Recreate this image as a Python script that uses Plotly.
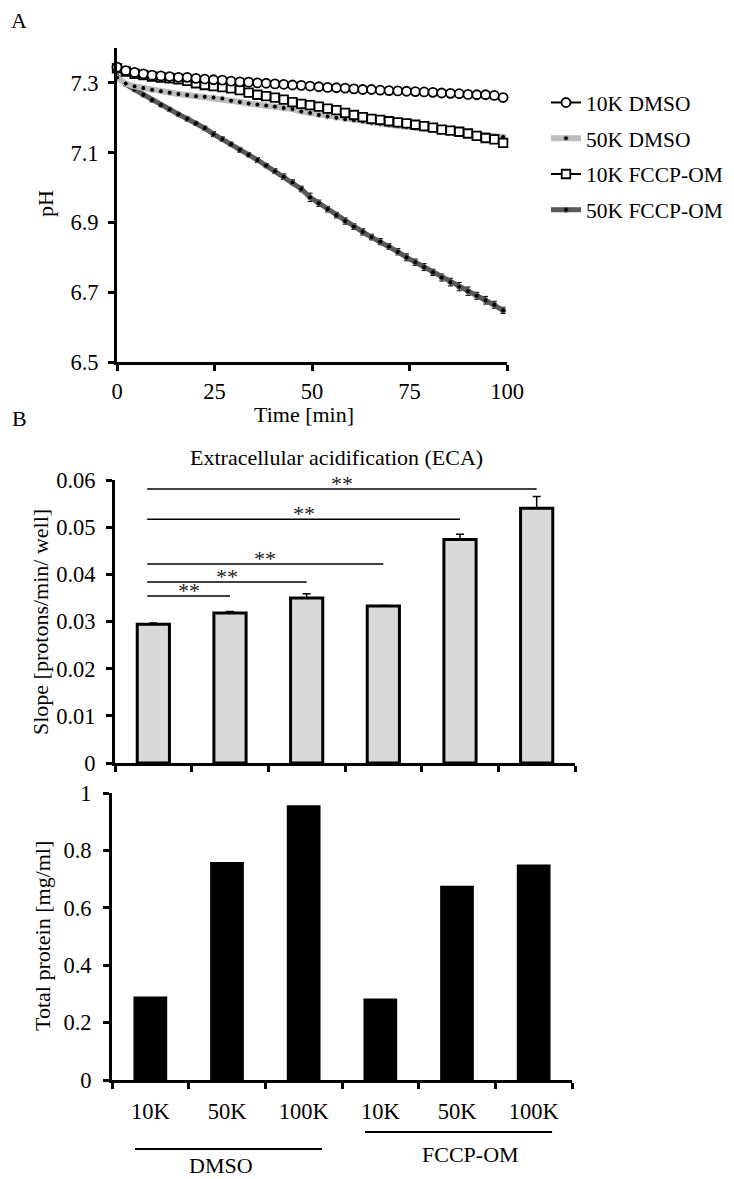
import plotly.graph_objects as go

W, H = 734, 1179
PAGE_MARGIN = 8          # default body margin of the html page
FW, FH = W - PAGE_MARGIN, H - PAGE_MARGIN
FONT = "Liberation Serif"

# ---------------- Panel A data ----------------
time_min = [0, 2.25, 4.5, 6.75, 9, 11.25, 13.5, 15.75, 18, 20.25, 22.5, 24.75, 27, 29.25,
            31.5, 33.75, 36, 38.25, 40.5, 42.75, 45, 47.25, 49.5, 51.75, 54, 56.25, 58.5,
            60.75, 63, 65.25, 67.5, 69.75, 72, 74.25, 76.5, 78.75, 81, 83.25, 85.5, 87.75,
            90, 92.25, 94.5, 96.75, 99]

ph_10k_dmso = [7.345, 7.335, 7.330, 7.326, 7.322, 7.320, 7.318, 7.316, 7.316, 7.313, 7.311,
               7.309, 7.308, 7.305, 7.303, 7.302, 7.300, 7.299, 7.297, 7.296, 7.294, 7.293,
               7.291, 7.289, 7.287, 7.286, 7.285, 7.283, 7.281, 7.281, 7.279, 7.278, 7.277,
               7.276, 7.275, 7.274, 7.273, 7.271, 7.270, 7.269, 7.267, 7.266, 7.266, 7.264,
               7.258]
err_10k_dmso = [0.002, 0.002, 0.002, 0.002, 0.002, 0.002, 0.003, 0.004, 0.005, 0.003, 0.002,
                0.002, 0.002, 0.002, 0.002, 0.002, 0.002, 0.002, 0.002, 0.002, 0.002, 0.002,
                0.002, 0.002, 0.002, 0.002, 0.002, 0.002, 0.002, 0.003, 0.002, 0.002, 0.002,
                0.002, 0.002, 0.002, 0.002, 0.002, 0.002, 0.002, 0.002, 0.002, 0.002, 0.002,
                0.002]

ph_50k_dmso = [7.315, 7.298, 7.290, 7.285, 7.280, 7.276, 7.272, 7.268, 7.265, 7.262, 7.260,
               7.258, 7.255, 7.249, 7.245, 7.241, 7.238, 7.235, 7.232, 7.228, 7.225, 7.218,
               7.214, 7.208, 7.204, 7.200, 7.196, 7.193, 7.190, 7.186, 7.183, 7.180, 7.177,
               7.174, 7.171, 7.168, 7.165, 7.162, 7.159, 7.156, 7.153, 7.151, 7.149, 7.147,
               7.145]
err_50k_dmso = [0.002, 0.002, 0.002, 0.002, 0.002, 0.002, 0.002, 0.002, 0.002, 0.002, 0.002,
                0.002, 0.003, 0.003, 0.002, 0.002, 0.003, 0.002, 0.002, 0.002, 0.003, 0.003,
                0.002, 0.003, 0.002, 0.002, 0.003, 0.002, 0.002, 0.002, 0.003, 0.002, 0.002,
                0.002, 0.003, 0.002, 0.003, 0.002, 0.003, 0.004, 0.003, 0.004, 0.004, 0.004,
                0.005]

ph_10k_fccp = [7.342, 7.332, 7.326, 7.322, 7.318, 7.315, 7.313, 7.310, 7.306, 7.299, 7.294,
               7.291, 7.288, 7.284, 7.279, 7.272, 7.266, 7.262, 7.258, 7.252, 7.245, 7.240,
               7.236, 7.232, 7.226, 7.222, 7.214, 7.208, 7.202, 7.197, 7.194, 7.190, 7.187,
               7.184, 7.180, 7.176, 7.172, 7.166, 7.163, 7.160, 7.155, 7.148, 7.142, 7.138,
               7.128]
err_10k_fccp = [0.002, 0.002, 0.002, 0.002, 0.002, 0.002, 0.002, 0.002, 0.003, 0.003, 0.002,
                0.002, 0.002, 0.002, 0.002, 0.003, 0.002, 0.002, 0.003, 0.002, 0.002, 0.002,
                0.003, 0.002, 0.002, 0.002, 0.003, 0.002, 0.003, 0.002, 0.002, 0.003, 0.002,
                0.003, 0.003, 0.004, 0.004, 0.005, 0.006, 0.008, 0.007, 0.008, 0.008, 0.009,
                0.007]

ph_50k_fccp = [7.318, 7.296, 7.281, 7.266, 7.251, 7.237, 7.224, 7.210, 7.197, 7.184, 7.170,
               7.153, 7.139, 7.124, 7.108, 7.094, 7.079, 7.063, 7.047, 7.031, 7.015, 6.996,
               6.972, 6.955, 6.938, 6.921, 6.904, 6.888, 6.873, 6.858, 6.845, 6.831, 6.816,
               6.800, 6.786, 6.772, 6.757, 6.742, 6.729, 6.716, 6.703, 6.690, 6.677, 6.664,
               6.648]
err_50k_fccp = [0.003, 0.004, 0.004, 0.004, 0.005, 0.004, 0.005, 0.005, 0.006, 0.005, 0.006,
                0.007, 0.006, 0.006, 0.007, 0.006, 0.007, 0.006, 0.007, 0.008, 0.007, 0.008,
                0.012, 0.009, 0.008, 0.008, 0.009, 0.008, 0.009, 0.008, 0.009, 0.008, 0.009,
                0.010, 0.009, 0.010, 0.009, 0.010, 0.011, 0.012, 0.012, 0.010, 0.011, 0.010,
                0.009]

series_names = ["10K DMSO", "50K DMSO", "10K FCCP-OM", "50K FCCP-OM"]

# ---------------- Panel B data ----------------
bar_positions = [0, 1, 2, 3, 4, 5]
cell_labels = ["10K", "50K", "100K", "10K", "50K", "100K"]
eca_slope = [0.0294, 0.0318, 0.0350, 0.0333, 0.0474, 0.0540]
eca_err = [0.0003, 0.0003, 0.0009, 0.0001, 0.0011, 0.0025]
total_protein = [0.291, 0.760, 0.957, 0.284, 0.677, 0.751]

sig_start = [0, 0, 0, 0, 0]
sig_end = [1, 2, 3, 4, 5]
sig_height = [0.0354, 0.0384, 0.0422, 0.0517, 0.0581]
sig_text = ["**", "**", "**", "**", "**"]

group_names = ["DMSO", "FCCP-OM"]
group_first = [0, 3]
group_last = [2, 5]


def px_x(p):
    return (p - PAGE_MARGIN) / FW


def px_y(p):
    return 1 - (p - PAGE_MARGIN) / FH


TICK_SIZE = 22.5
TEXT_SIZE = 22

fig = go.Figure()

err_style = dict(type="data", thickness=1, width=2.5, color="black", visible=True)

fig.add_trace(go.Scatter(
    x=time_min, y=ph_50k_fccp, name=series_names[3], mode="lines+markers",
    line=dict(color="#5a5a5a", width=5),
    marker=dict(symbol="circle", size=5, color="black", line=dict(color="#5a5a5a", width=1)),
    error_y=dict(array=err_50k_fccp, **err_style),
    legendrank=4, legendgroup="g4", cliponaxis=False, xaxis="x", yaxis="y"))

fig.add_trace(go.Scatter(
    x=time_min, y=ph_50k_dmso, name=series_names[1], mode="lines+markers",
    line=dict(color="#bdbdbd", width=6),
    marker=dict(symbol="circle", size=5, color="black", line=dict(color="#bdbdbd", width=1)),
    error_y=dict(array=err_50k_dmso, **err_style),
    legendrank=2, legendgroup="g2", cliponaxis=False, xaxis="x", yaxis="y"))

fig.add_trace(go.Scatter(
    x=time_min, y=ph_10k_fccp, name=series_names[2], mode="lines+markers",
    line=dict(color="black", width=2),
    marker=dict(symbol="square", size=8.5, color="white", line=dict(color="black", width=1.8)),
    error_y=dict(array=err_10k_fccp, **err_style),
    legendrank=3, legendgroup="g3", cliponaxis=False, xaxis="x", yaxis="y"))

fig.add_trace(go.Scatter(
    x=time_min, y=ph_10k_dmso, name=series_names[0], mode="lines+markers",
    line=dict(color="black", width=2),
    marker=dict(symbol="circle", size=9, color="white", line=dict(color="black", width=1.8)),
    error_y=dict(array=err_10k_dmso, **err_style),
    legendrank=1, legendgroup="g1", cliponaxis=False, xaxis="x", yaxis="y"))

fig.add_trace(go.Bar(
    x=bar_positions, y=eca_slope, width=0.42,
    marker=dict(color="#d9d9d9", line=dict(color="black", width=3)),
    error_y=dict(type="data", symmetric=False, array=eca_err,
                 arrayminus=[0] * len(eca_err), thickness=1.5, width=4, color="black"),
    showlegend=False, xaxis="x2", yaxis="y2"))

fig.add_trace(go.Bar(
    x=bar_positions, y=total_protein, width=0.44,
    marker=dict(color="black", line=dict(color="black", width=0)),
    showlegend=False, xaxis="x3", yaxis="y3"))

axis_common = dict(showline=True, linewidth=3, linecolor="black", ticks="outside",
                   ticklen=6, tickwidth=3, tickcolor="black", showgrid=False,
                   zeroline=False, automargin=False,
                   tickfont=dict(family=FONT, size=TICK_SIZE, color="black"))

fig.update_layout(
    template="none",
    width=FW, height=FH,
    margin=dict(l=0, r=0, t=0, b=0, pad=0, autoexpand=False),
    paper_bgcolor="white", plot_bgcolor="white",
    font=dict(family=FONT, size=TEXT_SIZE, color="black"),
    xaxis=dict(domain=[px_x(117), px_x(507)], anchor="y", range=[0, 100],
               tickvals=[0, 25, 50, 75, 100], ticklabelstandoff=1, **axis_common),
    yaxis=dict(domain=[px_y(362), px_y(48)], anchor="x", range=[6.5, 7.4],
               tickvals=[6.5, 6.7, 6.9, 7.1, 7.3], ticktext=["6.5", "6.7", "6.9", "7.1", "7.3"],
               ticklabelstandoff=5, **axis_common),
    xaxis2=dict(domain=[px_x(115), px_x(575)], anchor="y2", range=[-0.5, 5.5],
                tickvals=[-0.5, 0.5, 1.5, 2.5, 3.5, 4.5, 5.5], showticklabels=False,
                **axis_common),
    yaxis2=dict(domain=[px_y(763), px_y(480)], anchor="x2", range=[0, 0.06],
                tickvals=[0, 0.01, 0.02, 0.03, 0.04, 0.05, 0.06],
                ticktext=["0", "0.01", "0.02", "0.03", "0.04", "0.05", "0.06"],
                ticklabelstandoff=6, **axis_common),
    xaxis3=dict(domain=[px_x(112), px_x(572)], anchor="y3", range=[-0.5, 5.5],
                tickvals=bar_positions, ticktext=cell_labels,
                minor=dict(tick0=-0.5, dtick=1, ticks="outside", ticklen=6, tickwidth=3,
                           tickcolor="black", showgrid=False),
                showline=True, linewidth=3, linecolor="black", ticks="outside", ticklen=0,
                tickwidth=0, showgrid=False, zeroline=False, ticklabelstandoff=9,
                automargin=False,
                tickfont=dict(family=FONT, size=TICK_SIZE, color="black")),
    yaxis3=dict(domain=[px_y(1080), px_y(793)], anchor="x3", range=[0, 1],
                tickvals=[0, 0.2, 0.4, 0.6, 0.8, 1.0],
                ticktext=["0", "0.2", "0.4", "0.6", "0.8", "1"],
                ticklabelstandoff=7, **axis_common),
    legend=dict(x=px_x(546), y=px_y(82), xanchor="left", yanchor="top",
                font=dict(family=FONT, size=21.5, color="black"),
                traceorder="grouped", tracegroupgap=4.8, bgcolor="rgba(0,0,0,0)",
                borderwidth=0),
)


def paper_text(text, x, y, angle=0):
    return dict(text=text, x=px_x(x), y=px_y(y), xref="paper", yref="paper",
                xanchor="center", yanchor="middle", showarrow=False, textangle=angle,
                font=dict(size=TEXT_SIZE))


annotations = [
    paper_text("A", 19, 20),
    paper_text("B", 19, 418),
    paper_text("pH", 46, 204, -90),
    paper_text("Time [min]", 304, 414),
    paper_text("Extracellular acidification (ECA)", 336, 457),
    paper_text("Slope [protons/min/ well]", 40, 622, -90),
    paper_text("Total protein [mg/ml]", 42, 936, -90),
]

shapes = []
for s, e, h, t in zip(sig_start, sig_end, sig_height, sig_text):
    x0 = s - 0.08
    shapes.append(dict(type="line", xref="x2", yref="y2", x0=x0, x1=e, y0=h, y1=h,
                       line=dict(color="black", width=1.5)))
    annotations.append(dict(text=t, xref="x2", yref="y2", x=(x0 + e) / 2, y=h,
                            xanchor="center", yanchor="bottom", yshift=-9, showarrow=False,
                            font=dict(size=TEXT_SIZE, color="#222222")))

group_line_y = [1149, 1132]
group_text_y = [1165, 1154]
group_text_dx = [-0.08, 0.18]
for name, f, l, ly, ty, dx in zip(group_names, group_first, group_last, group_line_y,
                                  group_text_y, group_text_dx):
    shapes.append(dict(type="line", xref="x3", yref="paper", x0=f - 0.2, x1=l + 0.24,
                       y0=px_y(ly), y1=px_y(ly), line=dict(color="black", width=2)))
    annotations.append(dict(text=name, xref="x3", yref="paper", x=(f + l) / 2 + dx,
                            y=px_y(ty), xanchor="center", yanchor="middle",
                            showarrow=False, font=dict(size=TEXT_SIZE)))

fig.update_layout(annotations=annotations, shapes=shapes)

fig.write_html("out.html")
